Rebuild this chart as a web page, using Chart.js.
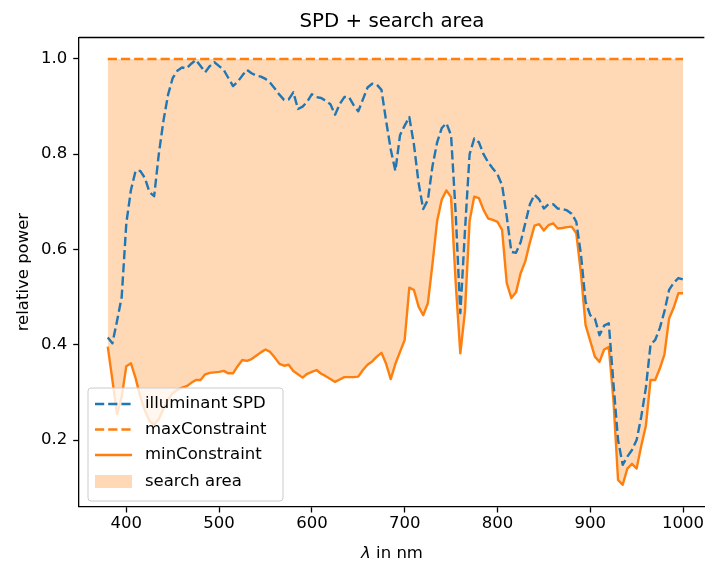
<!DOCTYPE html>
<html>
<head>
<meta charset="utf-8">
<title>SPD + search area</title>
<script src="https://cdn.jsdelivr.net/npm/chart.js@4.4.1/dist/chart.umd.min.js"></script>
<style>
  html, body { margin: 0; padding: 0; background: #fff; overflow: hidden; }
</style>
</head>
<body>
<canvas id="spdChart" width="705" height="565"></canvas>
<script>
const wavelengths = [
  380, 385, 390, 395, 400, 405, 410, 415, 420, 425,
  430, 435, 440, 445, 450, 455, 460, 465, 470, 475,
  480, 485, 490, 495, 500, 505, 510, 515, 520, 525,
  530, 535, 540, 545, 550, 555, 560, 565, 570, 575,
  580, 585, 590, 595, 600, 605, 610, 615, 620, 625,
  630, 635, 640, 645, 650, 655, 660, 665, 670, 675,
  680, 685, 690, 695, 700, 705, 710, 715, 720, 725,
  730, 735, 740, 745, 750, 755, 760, 765, 770, 775,
  780, 785, 790, 795, 800, 805, 810, 815, 820, 825,
  830, 835, 840, 845, 850, 855, 860, 865, 870, 875,
  880, 885, 890, 895, 900, 905, 910, 915, 920, 925,
  930, 935, 940, 945, 950, 955, 960, 965, 970, 975,
  980, 985, 990, 995, 1000
];

const spd = [
  0.415, 0.403, 0.45, 0.50, 0.655, 0.725, 0.765, 0.765, 0.75, 0.72,
  0.712, 0.80, 0.87, 0.925, 0.96, 0.975, 0.982, 0.98, 0.99, 0.998,
  0.985, 0.972, 0.985, 0.993, 0.985, 0.977, 0.96, 0.943, 0.952, 0.965,
  0.977, 0.97, 0.965, 0.963, 0.958, 0.95, 0.938, 0.925, 0.914, 0.915,
  0.93, 0.895, 0.9, 0.91, 0.926, 0.92, 0.918, 0.912, 0.905, 0.883,
  0.905, 0.92, 0.92, 0.903, 0.89, 0.915, 0.94, 0.948, 0.946, 0.935,
  0.87, 0.81, 0.765, 0.84, 0.86, 0.878, 0.82, 0.74, 0.685, 0.704,
  0.775, 0.825, 0.855, 0.865, 0.84, 0.676, 0.466, 0.64, 0.80, 0.833,
  0.825, 0.80, 0.783, 0.77, 0.758, 0.735, 0.67, 0.595, 0.593, 0.615,
  0.655, 0.695, 0.715, 0.705, 0.686, 0.695, 0.695, 0.686, 0.685, 0.682,
  0.675, 0.658, 0.59, 0.49, 0.462, 0.455, 0.42, 0.44, 0.445, 0.32,
  0.2, 0.148, 0.165, 0.179, 0.2, 0.249, 0.31, 0.4, 0.41, 0.435,
  0.47, 0.515, 0.53, 0.54, 0.537
];

const minConstraint = [
  0.396, 0.326, 0.255, 0.29, 0.355, 0.361, 0.33, 0.291, 0.262, 0.24,
  0.232, 0.244, 0.265, 0.285, 0.298, 0.305, 0.31, 0.313, 0.32, 0.326,
  0.326, 0.338, 0.341, 0.342, 0.343, 0.345, 0.34, 0.34, 0.355, 0.368,
  0.366, 0.37, 0.377, 0.384, 0.39, 0.385, 0.373, 0.36, 0.356, 0.358,
  0.345, 0.338, 0.331, 0.339, 0.343, 0.347, 0.339, 0.334, 0.328, 0.322,
  0.327, 0.332, 0.332, 0.332, 0.333, 0.347, 0.358, 0.365, 0.375, 0.383,
  0.36, 0.328, 0.36, 0.385, 0.41, 0.52, 0.515, 0.48, 0.462, 0.487,
  0.57, 0.66, 0.705, 0.724, 0.71, 0.53, 0.382, 0.47, 0.66, 0.711,
  0.708, 0.683, 0.665, 0.662, 0.658, 0.641, 0.53, 0.498, 0.51, 0.55,
  0.575, 0.615, 0.65, 0.653, 0.64, 0.651, 0.655, 0.644, 0.645, 0.647,
  0.648, 0.634, 0.55, 0.441, 0.408, 0.375, 0.364, 0.39, 0.395, 0.284,
  0.116, 0.106, 0.14, 0.15, 0.14, 0.188, 0.23, 0.326, 0.326, 0.35,
  0.38, 0.455, 0.478, 0.508, 0.508
];

// the upper bound is flat, so its two end points are enough
const maxWavelengths = [380, 1000];
const maxConstraint = [1.0, 1.0];
const searchTop = 1.0;

const xTicks = [400, 500, 600, 700, 800, 900, 1000];
const yTicks = [0.2, 0.4, 0.6, 0.8, 1.0];

const FONT = "DejaVu Sans";
const FS = 16.5;
const blue = "#1f77b4";
const orange = "#ff7f0e";
const areaColor = "rgba(255, 127, 14, 0.3)";
const dash = [9.2, 4];
const lw = 2.4;

const toPoints = (xs, ys) => xs.map((x, i) => ({ x: x, y: ys[i] }));

// title, axis labels, top spine and the legend box
const decorations = {
  id: "decorations",
  afterDraw(chart) {
    const ctx = chart.ctx;
    const area = chart.chartArea;
    ctx.save();

    ctx.strokeStyle = "#000";
    ctx.lineWidth = 1.3;
    ctx.beginPath();
    ctx.moveTo(area.left, area.top);
    ctx.lineTo(area.right, area.top);
    ctx.stroke();

    ctx.fillStyle = "#000";
    ctx.textBaseline = "alphabetic";
    ctx.textAlign = "center";
    ctx.font = `19.8px "${FONT}"`;
    ctx.fillText("SPD + search area", 392, 27);

    // x label: italic lambda, then plain text
    const cx = 392, by = 558;
    ctx.textAlign = "left";
    ctx.font = `italic ${FS}px "${FONT}"`;
    const wL = ctx.measureText("λ").width;
    ctx.font = `${FS}px "${FONT}"`;
    const wR = ctx.measureText(" in nm").width;
    const x0 = cx - (wL + wR) / 2;
    ctx.font = `italic ${FS}px "${FONT}"`;
    ctx.fillText("λ", x0, by);
    ctx.font = `${FS}px "${FONT}"`;
    ctx.fillText(" in nm", x0 + wL, by);

    ctx.save();
    ctx.translate(28, (area.top + area.bottom) / 2);
    ctx.rotate(-Math.PI / 2);
    ctx.textAlign = "center";
    ctx.fillText("relative power", 0, 0);
    ctx.restore();

    // legend
    const bx = 88, bw = 195, bt = 388, bh = 113;
    ctx.beginPath();
    ctx.roundRect(bx, bt, bw, bh, 3);
    ctx.fillStyle = "rgba(255, 255, 255, 0.8)";
    ctx.fill();
    ctx.strokeStyle = "#cccccc";
    ctx.lineWidth = 1;
    ctx.stroke();

    const rows = [404, 429.5, 455, 481.5];
    ctx.font = `${FS}px "${FONT}"`;
    ctx.textBaseline = "middle";
    chart.data.datasets.forEach((ds, i) => {
      const y = rows[i];
      ctx.strokeStyle = ds.borderColor;
      ctx.lineWidth = ds.borderWidth;
      ctx.setLineDash(ds.borderDash || []);
      ctx.beginPath();
      ctx.moveTo(95, y);
      ctx.lineTo(132, y);
      ctx.stroke();
      ctx.setLineDash([]);
      ctx.fillStyle = "#000";
      ctx.fillText(ds.label, 145, y);
    });
    const fillDs = chart.data.datasets[2];
    ctx.fillStyle = fillDs.backgroundColor;
    ctx.fillRect(95, rows[3] - 6.5, 37, 13);
    ctx.fillStyle = "#000";
    ctx.fillText("search area", 145, rows[3]);

    ctx.restore();
  }
};

const tickFont = { family: FONT, size: FS };

const config = {
  type: "line",
  data: {
    datasets: [
      {
        label: "illuminant SPD",
        data: toPoints(wavelengths, spd),
        borderColor: blue,
        borderDash: dash,
        borderWidth: lw,
        borderJoinStyle: "round",
        pointRadius: 0,
        fill: false,
      },
      {
        label: "maxConstraint",
        data: toPoints(maxWavelengths, maxConstraint),
        borderColor: orange,
        borderDash: dash,
        borderWidth: lw,
        pointRadius: 0,
        fill: false,
      },
      {
        label: "minConstraint",
        data: toPoints(wavelengths, minConstraint),
        borderColor: orange,
        borderWidth: lw,
        borderJoinStyle: "round",
        pointRadius: 0,
        backgroundColor: areaColor,
        fill: { value: searchTop },
      },
    ],
  },
  options: {
    responsive: false,
    animation: false,
    layout: { padding: { top: 37.5, left: 0, right: 0, bottom: 0 } },
    plugins: {
      legend: { display: false },
      tooltip: { enabled: false },
      filler: { drawTime: "beforeDatasetsDraw" },
    },
    scales: {
      x: {
        type: "linear",
        min: 349,
        max: 1023,
        afterBuildTicks: (scale) => { scale.ticks = xTicks.map((v) => ({ value: v })); },
        afterFit: (scale) => { scale.height = 58.3; },
        grid: { drawOnChartArea: false, tickLength: 5.8, tickColor: "#000", tickWidth: 1.3 },
        border: { color: "#000", width: 1.3 },
        ticks: { font: tickFont, color: "#000", padding: 1, maxRotation: 0, callback: (v) => String(v) },
      },
      y: {
        type: "linear",
        min: 0.06,
        max: 1.045,
        afterBuildTicks: (scale) => { scale.ticks = yTicks.map((v) => ({ value: v })); },
        afterFit: (scale) => { scale.width = 79; },
        grid: { drawOnChartArea: false, tickLength: 5.8, tickColor: "#000", tickWidth: 1.3 },
        border: { color: "#000", width: 1.3 },
        ticks: { font: tickFont, color: "#000", padding: 6, callback: (v) => v.toFixed(1) },
      },
    },
  },
  plugins: [decorations],
};

const spdChart = new Chart(document.getElementById("spdChart"), config);
</script>
</body>
</html>
